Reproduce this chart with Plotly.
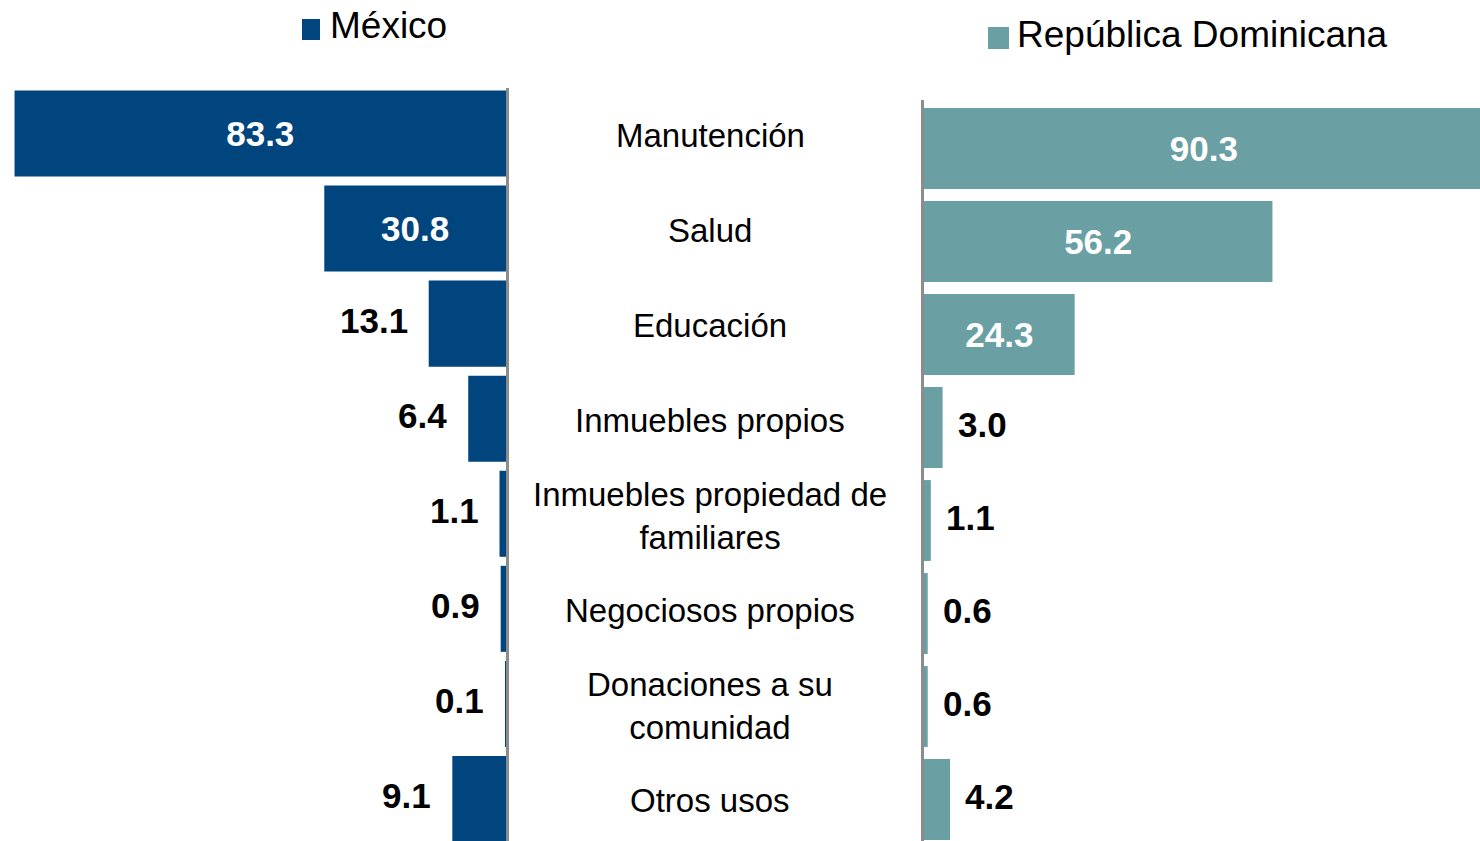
import plotly.graph_objects as go

# ---- data ----
categories = ["Manutención", "Salud", "Educación", "Inmuebles propios",
              "Inmuebles propiedad de<br>familiares", "Negociosos propios",
              "Donaciones a su<br>comunidad", "Otros usos"]
mexico = [83.3, 30.8, 13.1, 6.4, 1.1, 0.9, 0.1, 9.1]
rep_dom = [90.3, 56.2, 24.3, 3.0, 1.1, 0.6, 0.6, 4.2]
series_names = ["México", "República Dominicana"]

# ---- styles ----
MX_COLOR = "#00457E"
RD_COLOR = "#6A9FA3"
AXIS_GRAY = "#8C8C8C"
FONT = "Liberation Sans, Arial, sans-serif"
INSIDE_MIN = 20  # values at least this large are labelled inside the bar

W, H = 1480, 841


def inside_text(vals):
    return [f"{v:.1f}" if v >= INSIDE_MIN else "" for v in vals]


fig = go.Figure()

fig.add_trace(go.Bar(
    name=series_names[0], y=categories, x=mexico, orientation="h",
    xaxis="x", yaxis="y", width=0.905,
    marker=dict(color=MX_COLOR, line=dict(width=0)),
    text=inside_text(mexico), textposition="inside", insidetextanchor="middle",
    constraintext="none",
    textfont=dict(family=FONT, size=35, color="white", weight="bold"),
    showlegend=False, hoverinfo="x+y",
))
fig.add_trace(go.Bar(
    name=series_names[1], y=categories, x=rep_dom, orientation="h",
    xaxis="x2", yaxis="y2", width=0.87,
    marker=dict(color=RD_COLOR, line=dict(width=0)),
    text=inside_text(rep_dom), textposition="inside", insidetextanchor="middle",
    constraintext="none",
    textfont=dict(family=FONT, size=35, color="white", weight="bold"),
    showlegend=False, hoverinfo="x+y",
))

annotations = []
# outside value labels
for cat, v in zip(categories, mexico):
    if v < INSIDE_MIN:
        annotations.append(dict(
            x=v, y=cat, xref="x", yref="y", text=f"{v:.1f}", showarrow=False,
            xanchor="right", yanchor="middle", xshift=-19, yshift=3,
            font=dict(family=FONT, size=35, color="black", weight="bold")))
for cat, v in zip(categories, rep_dom):
    if v < INSIDE_MIN:
        annotations.append(dict(
            x=v, y=cat, xref="x2", yref="y2", text=f"{v:.1f}", showarrow=False,
            xanchor="left", yanchor="middle", xshift=13, yshift=3,
            font=dict(family=FONT, size=35, color="black", weight="bold")))
# category labels in the middle column
for cat in categories:
    annotations.append(dict(
        x=710 / W, y=cat, xref="paper", yref="y", text=cat, showarrow=False,
        xanchor="center", yanchor="middle", align="center", yshift=-2,
        font=dict(family=FONT, size=33, color="black")))
# legend keys
annotations.append(dict(
    x=328 / W, y=1 - 26 / H, xref="paper", yref="paper", text=series_names[0],
    showarrow=False, xanchor="left", yanchor="middle",
    font=dict(family=FONT, size=37, color="black")))
annotations.append(dict(
    x=1015 / W, y=1 - 35 / H, xref="paper", yref="paper", text=series_names[1],
    showarrow=False, xanchor="left", yanchor="middle",
    font=dict(family=FONT, size=37, color="black")))

shapes = [
    dict(type="rect", xref="paper", yref="paper",
         x0=302 / W, x1=320 / W, y0=1 - 40 / H, y1=1 - 19 / H,
         fillcolor=MX_COLOR, line=dict(width=0)),
    dict(type="rect", xref="paper", yref="paper",
         x0=988 / W, x1=1009 / W, y0=1 - 49 / H, y1=1 - 27 / H,
         fillcolor=RD_COLOR, line=dict(width=0)),
]

fig.update_layout(
    width=W, height=H, autosize=False,
    margin=dict(l=0, r=0, t=0, b=0, pad=0),
    paper_bgcolor="white", plot_bgcolor="white",
    bargap=0.1,
    xaxis=dict(domain=[0, 506 / W], range=[506 / 5.9, 0], visible=False),
    yaxis=dict(domain=[0, 1 - 88 / H], anchor="x", side="right",
               categoryorder="array", categoryarray=categories,
               range=[7.442, -0.4786], showticklabels=False, ticks="",
               showgrid=False, zeroline=False,
               showline=True, linecolor=AXIS_GRAY, linewidth=3),
    xaxis2=dict(domain=[924 / W, 1], range=[0, 556 / 6.2], visible=False,
                anchor="y2"),
    yaxis2=dict(domain=[0, 1 - 100 / H], anchor="x2", side="left",
                categoryorder="array", categoryarray=categories,
                range=[7.446, -0.5215], showticklabels=False, ticks="",
                showgrid=False, zeroline=False,
                showline=True, linecolor=AXIS_GRAY, linewidth=3),
    annotations=annotations,
    shapes=shapes,
    font=dict(family=FONT),
)

fig.write_html("out.html", config={"displayModeBar": False},
               post_script="document.body.style.margin='0';")
